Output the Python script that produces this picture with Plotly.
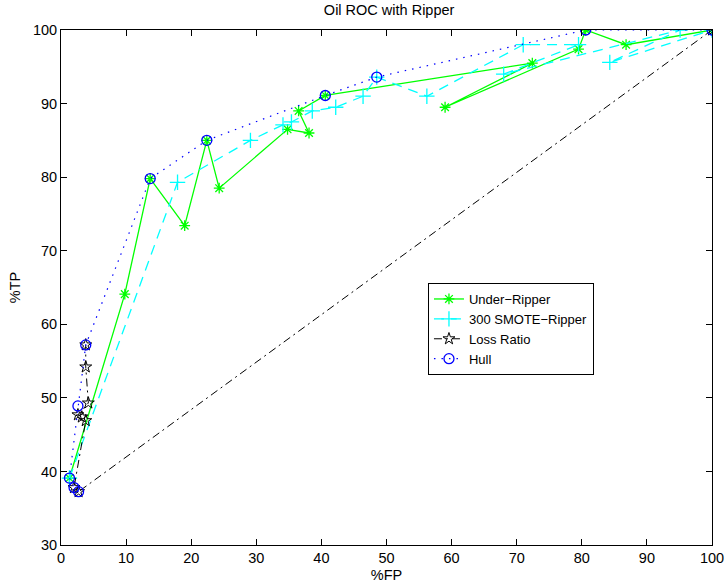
import plotly.graph_objects as go

# Under-Ripper
under_fp = [1.3, 9.8, 13.7, 19.0, 22.4, 24.3, 34.8, 38.1, 36.5, 40.6, 72.4, 59.0, 79.5, 80.6, 86.8, 100.0]
under_tp = [39.1, 64.1, 79.8, 73.4, 85.0, 78.5, 86.5, 86.0, 89.0, 91.1, 95.5, 89.5, 97.4, 100.0, 98.0, 100.0]

# 300 SMOTE-Ripper
smote_fp = [1.3, 17.9, 29.1, 34.1, 35.4, 38.6, 42.2, 46.4, 48.5, 56.2, 71.0, 79.5, 68.0, 95.1, 84.3, 100.0]
smote_tp = [39.1, 79.3, 85.0, 87.1, 87.5, 89.0, 89.5, 91.0, 93.6, 91.0, 98.0, 98.0, 94.0, 100.0, 95.6, 100.0]

# Loss Ratio
loss_fp = [100.0, 2.7, 2.0, 3.8, 3.2, 2.6, 4.2, 3.8, 3.8]
loss_tp = [100.0, 37.25, 37.8, 46.9, 47.4, 47.7, 49.3, 54.2, 57.2]

# Hull
hull_fp = [2.7, 2.0, 1.3, 2.6, 3.8, 13.7, 22.4, 40.6, 48.5, 80.6, 100.0]
hull_tp = [37.25, 37.8, 39.1, 48.9, 57.2, 79.8, 85.0, 91.1, 93.6, 100.0, 100.0]

x_ticks = list(range(0, 101, 10))
y_ticks = list(range(30, 101, 10))

FONT = "Liberation Sans, Arial, Helvetica, sans-serif"
FS = 14.5

fig = go.Figure()
fig.add_trace(go.Scatter(x=under_fp, y=under_tp, mode="lines+markers", name="Under−Ripper",
                         line=dict(color="#00ff00", width=1.3),
                         marker=dict(symbol="asterisk-open", size=9, color="#00ff00", line=dict(width=1.3, color="#00ff00"))))
fig.add_trace(go.Scatter(x=smote_fp, y=smote_tp, mode="lines+markers", name="300 SMOTE−Ripper",
                         line=dict(color="#00ffff", width=1.3, dash="10px,7px"),
                         marker=dict(symbol="cross-thin-open", size=11, color="#00ffff", line=dict(width=1.3, color="#00ffff"))))
fig.add_trace(go.Scatter(x=loss_fp, y=loss_tp, mode="lines+markers", name="Loss Ratio",
                         line=dict(color="black", width=1, dash="8px,4px,2px,4px"),
                         marker=dict(symbol="star-open", size=9, color="black", line=dict(width=1, color="black"))))
fig.add_trace(go.Scatter(x=hull_fp, y=hull_tp, mode="lines+markers", name="Hull",
                         line=dict(color="#0000ff", width=1.2, dash="1.5px,6px"),
                         marker=dict(symbol="circle-open", size=10, color="#0000ff", line=dict(width=1.3, color="#0000ff"))))

axis_common = dict(showline=True, linecolor="black", linewidth=1, mirror="ticks", ticks="inside",
                   ticklen=6, tickcolor="black", tickwidth=1, showgrid=False, zeroline=False,
                   automargin=False,
                   tickfont=dict(family=FONT, size=FS, color="black"))
fig.update_xaxes(range=[0, 100], tickvals=x_ticks, title=dict(text="%FP", font=dict(family=FONT, size=FS, color="black"), standoff=4), **axis_common)
fig.update_yaxes(range=[30, 100], tickvals=y_ticks, title=dict(text="%TP", font=dict(family=FONT, size=FS, color="black"), standoff=8), **axis_common)

fig.update_layout(
    width=726, height=585,
    margin=dict(l=61, r=14, t=30, b=40, autoexpand=False),
    paper_bgcolor="white", plot_bgcolor="white",
    title=dict(text="Oil ROC with Ripper", x=0.536, xanchor="center", y=0.983, yanchor="middle",
               font=dict(family=FONT, size=FS, color="black"), automargin=False),
    legend=dict(x=0.5637, y=0.5087, xanchor="left", yanchor="top", bgcolor="white",
                bordercolor="black", borderwidth=1, font=dict(family=FONT, size=13, color="black"),
                tracegroupgap=0),
    showlegend=True,
)

fig.write_html("out.html", config={"displayModeBar": False},
               post_script="document.body.style.margin='0';document.body.style.padding='0';")
